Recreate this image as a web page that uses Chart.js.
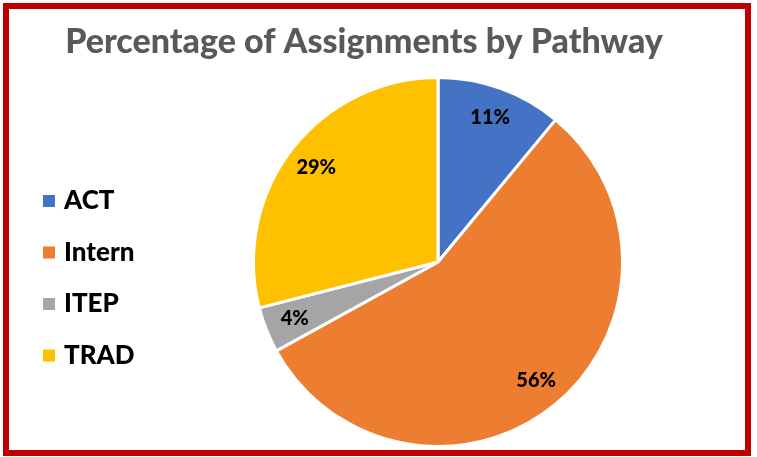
<!DOCTYPE html>
<html><head><meta charset="utf-8">
<script src="https://cdn.jsdelivr.net/npm/chart.js@4/dist/chart.umd.min.js"></script>
<style>
html,body{margin:0;padding:0;background:#fff;}
#wrap{position:absolute;left:0;top:0;width:757px;height:457px;}
#frame{position:absolute;left:3px;top:3px;width:748px;height:453px;box-sizing:border-box;border:6px solid #C00000;pointer-events:none;}
canvas{position:absolute;left:0;top:0;}
</style></head><body>
<div id="wrap"><canvas id="c" width="757" height="457"></canvas><div id="frame"></div></div>
<script>
const chartTitle = "Percentage of Assignments by Pathway";
const categories = ["ACT", "Intern", "ITEP", "TRAD"];
const percentValues = [11, 56, 4, 29];
const sliceColors = ["#4472C4", "#ED7D31", "#A5A5A5", "#FFC000"];

const FONT = "Lato, 'Open Sans', sans-serif";

const overlayPlugin = {
  id: 'overlay',
  afterDatasetsDraw(chart) {
    const ctx = chart.ctx;
    const meta = chart.getDatasetMeta(0);
    ctx.save();
    ctx.font = "900 20px " + FONT;
    ctx.fillStyle = "#000";
    ctx.textAlign = "center";
    ctx.textBaseline = "middle";
    meta.data.forEach((arc, i) => {
      const p = arc.getProps(['x','y','startAngle','endAngle','outerRadius'], true);
      const a = (p.startAngle + p.endAngle) / 2;
      const r = p.outerRadius * 0.835;
      ctx.fillText(chart.data.datasets[0].data[i] + "%", p.x + Math.cos(a) * r, p.y + Math.sin(a) * r);
    });
    ctx.restore();
  },
  afterDraw(chart) {
    const ctx = chart.ctx;
    ctx.save();
    ctx.font = "900 34px " + FONT;
    ctx.fillStyle = "#595959";
    ctx.textAlign = "center";
    ctx.textBaseline = "alphabetic";
    ctx.fillText(chartTitle, 364, 53);
    ctx.font = "900 26px " + FONT;
    ctx.textAlign = "left";
    chart.data.labels.forEach((lab, i) => {
      const cy = 201 + i * 51.5;
      ctx.fillStyle = chart.data.datasets[0].backgroundColor[i];
      ctx.fillRect(43, cy - 6, 12, 12);
      ctx.fillStyle = "#000";
      ctx.fillText(lab, 64, cy + 8);
    });
    ctx.restore();
  }
};

new Chart(document.getElementById('c'), {
  type: 'pie',
  data: {
    labels: categories,
    datasets: [{
      data: percentValues,
      backgroundColor: sliceColors,
      borderColor: "#ffffff",
      borderWidth: 3
    }]
  },
  options: {
    responsive: false,
    animation: false,
    layout: { padding: { left: 252, right: 133, top: 76, bottom: 9 } },
    plugins: {
      legend: { display: false },
      title: { display: false },
      tooltip: { enabled: false }
    }
  },
  plugins: [overlayPlugin]
});
</script>
</body></html>
